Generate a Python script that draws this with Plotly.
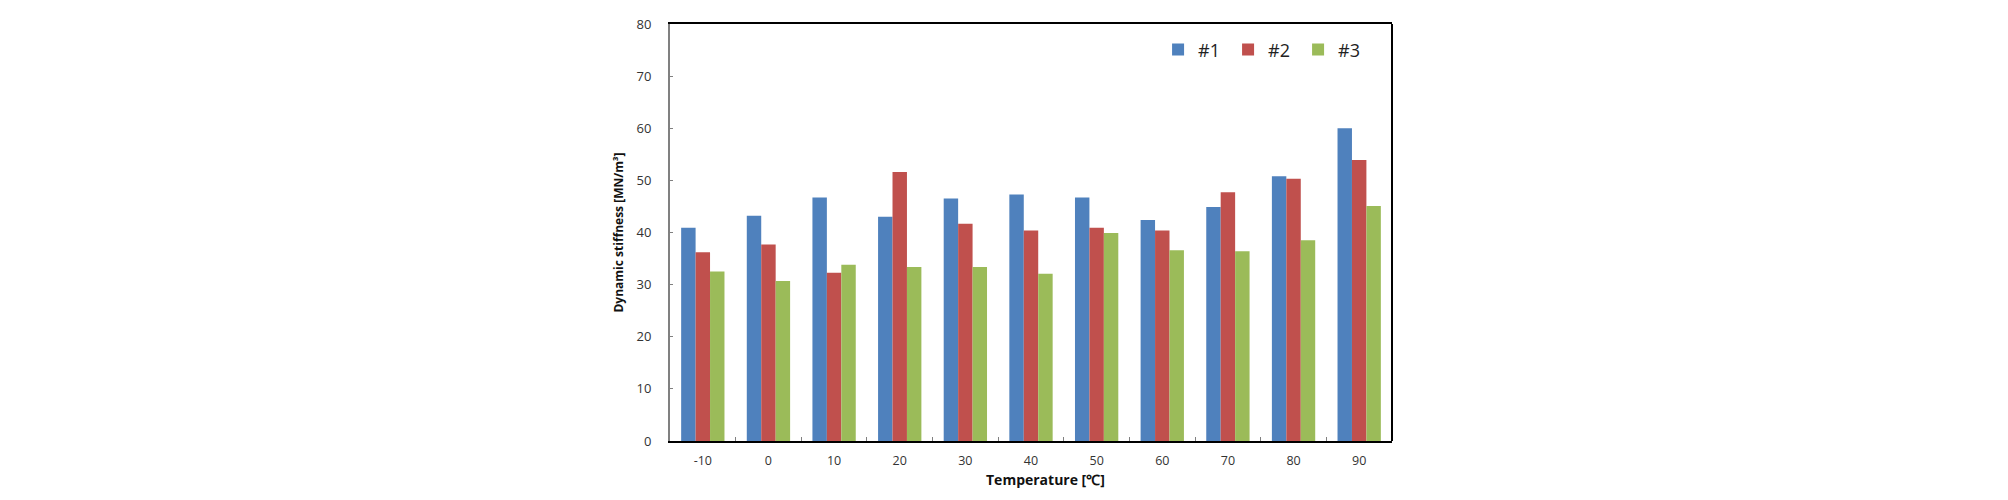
import plotly.graph_objects as go

categories = ["-10", "0", "10", "20", "30", "40", "50", "60", "70", "80", "90"]
s1 = [40.9, 43.2, 46.7, 43.0, 46.5, 47.3, 46.7, 42.4, 44.9, 50.8, 60.0]
s2 = [36.2, 37.7, 32.3, 51.6, 41.7, 40.4, 40.9, 40.4, 47.7, 50.3, 53.9]
s3 = [32.5, 30.7, 33.8, 33.4, 33.4, 32.1, 39.9, 36.6, 36.4, 38.5, 45.1]
names = ["#1", "#2", "#3"]
colors = ["#4F81BD", "#C0504D", "#9BBB59"]
y_ticks = [0, 10, 20, 30, 40, 50, 60, 70, 80]

fig = go.Figure()
for name, vals, col in zip(names, [s1, s2, s3], colors):
    fig.add_trace(go.Bar(x=categories, y=vals, name=name, marker_color=col,
                         marker_line_width=0))

font_family = "Open Sans, Liberation Sans, sans-serif"
# page body has an 8px margin; compensate
OFF = 8
W, H = 2008 - OFF, 500 - OFF
L, R, T, B = 670 - OFF, 1392 - OFF, 15 - OFF, 441 - OFF

fig.update_layout(
    width=W, height=H,
    margin=dict(l=L, r=W - R, t=T, b=H - B, pad=0),
    paper_bgcolor="white", plot_bgcolor="white",
    barmode="group", bargap=0.34, bargroupgap=0,
    font=dict(family=font_family, color="#222222"),
    showlegend=True,
    legend=dict(orientation="h", x=0.676, xanchor="left", y=0.938, yanchor="middle",
                font=dict(size=18, color="#222222", family=font_family),
                bgcolor="rgba(0,0,0,0)", itemsizing="constant",
                entrywidth=25, entrywidthmode="pixels"),
    xaxis=dict(
        type="category", tickson="boundaries", ticks="inside", ticklen=4,
        tickcolor="#808080", showline=True, linecolor="black", linewidth=2,
        mirror=True, showgrid=False, zeroline=False,
        tickfont=dict(size=12.5, color="#333333"), ticklabelstandoff=7,
    ),
    yaxis=dict(
        range=[0, 80], tickvals=y_ticks, ticks="inside", ticklen=3,
        tickcolor="#808080", showline=True, linecolor="#808080", linewidth=2,
        showgrid=False, zeroline=False, ticklabeloverflow="allow",
        tickfont=dict(size=13, color="#333333"), ticklabelstandoff=14,
        title=dict(text="<b>Dynamic stiffness [MN/m³]</b>",
                   font=dict(size=12, color="#111111"), standoff=10),
    ),
    shapes=[dict(type="line", xref="paper", yref="paper", x0=1, x1=1, y0=0, y1=1,
                 line=dict(color="black", width=2))],
    annotations=[dict(text="<b>Temperature [℃]</b>", xref="paper", yref="paper",
                      x=(1045 - 670) / 722, y=-(480 - 441) / 426,
                      xanchor="center", yanchor="middle", showarrow=False,
                      font=dict(size=14, color="#111111", family=font_family))],
)

fig.write_html("out.html")
